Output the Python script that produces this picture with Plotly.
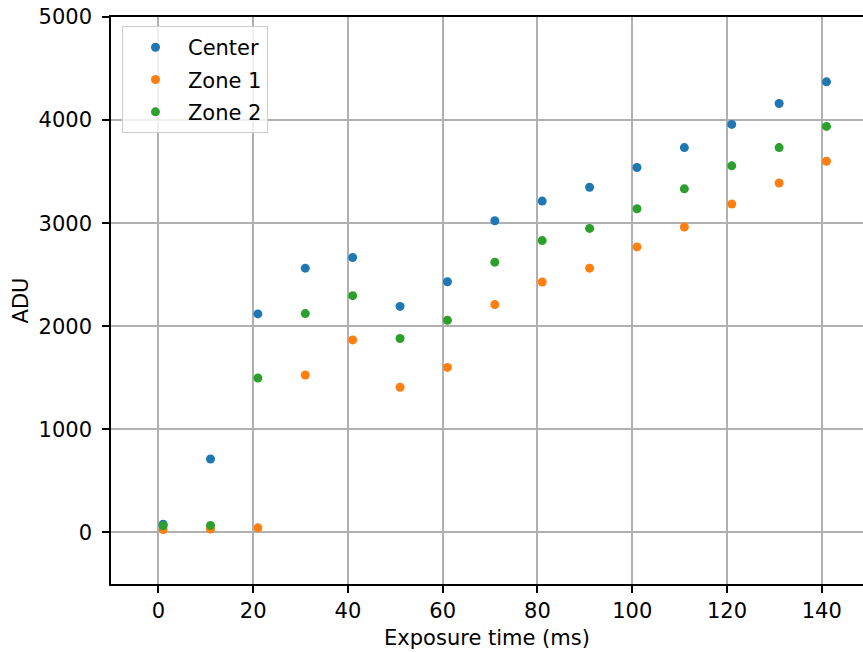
import plotly.graph_objects as go

exposure_ms = [1, 11, 21, 31, 41, 51, 61, 71, 81, 91, 101, 111, 121, 131, 141]
center = [80, 712, 2120, 2564, 2667, 2193, 2432, 3024, 3214, 3349, 3540, 3733, 3958, 4161, 4371]
zone1 = [28, 33, 45, 1527, 1868, 1408, 1601, 2210, 2429, 2564, 2770, 2963, 3186, 3390, 3601]
zone2 = [65, 68, 1498, 2123, 2297, 1881, 2058, 2622, 2831, 2949, 3140, 3333, 3556, 3733, 3939]

series = [("Center", center, "#1f77b4"), ("Zone 1", zone1, "#ff7f0e"), ("Zone 2", zone2, "#2ca02c")]

FONT = "DejaVu Sans"
FS = 21

fig = go.Figure()
for i, (name, vals, col) in enumerate(series):
    fig.add_trace(go.Scatter(x=exposure_ms, y=vals, mode="markers", name=name,
                             legendgroup=f"g{i}",
                             marker=dict(color=col, size=9, line=dict(width=0))))

axis_common = dict(showline=True, linecolor="black", linewidth=1.5,
                   ticks="outside", ticklen=7, tickwidth=1.5, tickcolor="black",
                   showgrid=True, gridcolor="#b0b0b0", gridwidth=1.6, zeroline=False,
                   automargin=False, ticklabeloverflow="allow",
                   tickfont=dict(family=FONT, size=FS, color="black"))

fig.update_layout(
    autosize=False,
    width=863, height=652,
    margin=dict(l=111, r=0, t=17, b=68),
    paper_bgcolor="white", plot_bgcolor="white",
    font=dict(family=FONT, size=FS, color="black"),
    xaxis=dict(range=[-10, 148.7], tickmode="array", tickvals=[0, 20, 40, 60, 80, 100, 120, 140],
               title=dict(text="Exposure time (ms)", font=dict(family=FONT, size=FS), standoff=8),
               mirror=True, **axis_common),
    yaxis=dict(range=[-500, 5000], tickmode="array", tickvals=[0, 1000, 2000, 3000, 4000, 5000],
               title=dict(text="ADU", font=dict(family=FONT, size=FS), standoff=4),
               ticklabelstandoff=6, mirror=False,
               **axis_common),
    legend=dict(x=0.0146, y=0.984, xanchor="left", yanchor="top",
                bgcolor="rgba(255,255,255,0.8)", bordercolor="#cccccc", borderwidth=1,
                font=dict(family=FONT, size=FS), tracegroupgap=2, itemwidth=55),
    showlegend=True,
)

fig.write_html("out.html", config={"responsive": False, "displayModeBar": False},
               post_script="document.body.style.margin='0';")
